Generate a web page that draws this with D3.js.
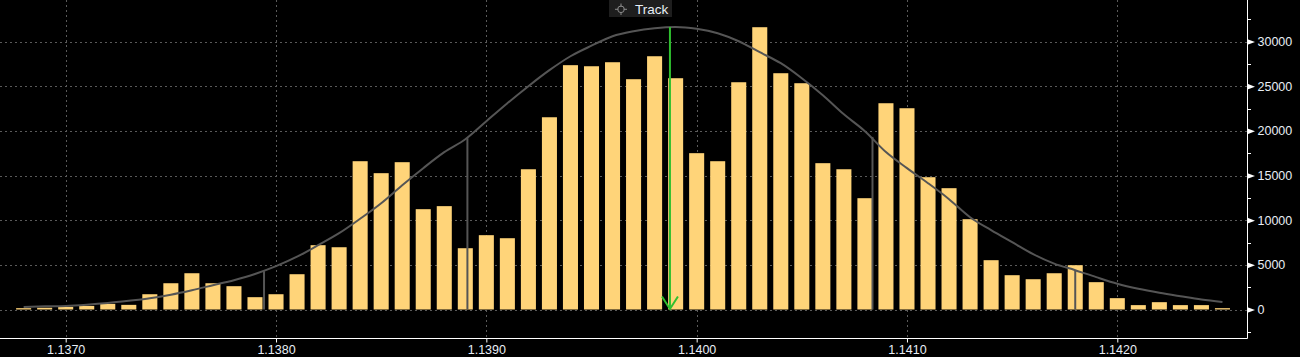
<!DOCTYPE html>
<html><head><meta charset="utf-8">
<script src="https://cdn.jsdelivr.net/npm/d3@7"></script>
<style>
html,body{margin:0;padding:0;background:#000;}
svg{display:block;}
</style></head>
<body>
<svg id="chart" width="1300" height="357"></svg>
<script>
const prices = [1.1368,1.1369,1.1370,1.1371,1.1372,1.1373,1.1374,1.1375,1.1376,1.1377,1.1378,1.1379,1.1380,1.1381,1.1382,
1.1383,1.1384,1.1385,1.1386,1.1387,1.1388,1.1389,1.1390,1.1391,1.1392,1.1393,1.1394,1.1395,1.1396,1.1397,
1.1398,1.1399,1.1400,1.1401,1.1402,1.1403,1.1404,1.1405,1.1406,1.1407,1.1408,1.1409,1.1410,1.1411,1.1412,
1.1413,1.1414,1.1415,1.1416,1.1417,1.1418,1.1419,1.1420,1.1421,1.1422,1.1423,1.1424,1.1425];
const volumes = [150,200,300,400,630,520,1710,2940,4060,2940,2610,1380,1710,3950,7200,
6970,16600,15260,16490,11230,11570,6860,8320,7980,15700,21520,27350,27230,27680,25780,
28350,25890,17500,16600,25440,31600,26450,25330,16380,15700,12460,23090,22530,14810,13580,
10110,5520,3840,3390,4060,4960,3060,1270,490,820,490,490,150];
const curveValues = [290,350,400,540,730,980,1260,1660,2160,2720,3280,3970,4850,5910,7200,
8540,10160,11900,13910,15820,17610,19060,21080,23090,25000,26790,28350,29530,30590,31150,
31490,31630,31430,30930,30030,28800,27570,25890,23990,21850,19960,17620,15820,14140,12350,
10330,8880,7530,6190,5130,4400,3620,2890,2330,1880,1490,1120,850];
const markerPrices = [1.137943,1.138910,1.140836,1.141800];
const markerHeights = [4290,19180,19320,4400];
const trackPrice = 1.139873;
const trackHeight = 31630;
const xTicks = [1.1370,1.1380,1.1390,1.1400,1.1410,1.1420];
const yTicks = [0,5000,10000,15000,20000,25000,30000];
const yMinorTicks = [-2500,2500,7500,12500,17500,22500,27500,32500];

const svg = d3.select("#chart");
const axisX = 1247.5, axisY = 338.5;
const x = d3.scaleLinear().domain([1.1370,1.1420]).range([65.7,1117.3]);
const y = d3.scaleLinear().domain([0,30000]).range([309.5,41.5]);

const gridColor = "#5a5a5a";
svg.append("g").selectAll("line").data(yTicks).join("line")
  .attr("x1",0).attr("x2",axisX).attr("y1",d=>Math.round(y(d))+0.5).attr("y2",d=>Math.round(y(d))+0.5)
  .attr("stroke",gridColor).attr("stroke-width",1).attr("stroke-dasharray","2,3");
svg.append("g").selectAll("line").data(xTicks).join("line")
  .attr("y1",0).attr("y2",axisY).attr("x1",d=>Math.round(x(d))+0.5).attr("x2",d=>Math.round(x(d))+0.5)
  .attr("stroke",gridColor).attr("stroke-width",1).attr("stroke-dasharray","2,3");

const step = x(1.1371)-x(1.1370);
const bw = step*0.715;
svg.append("g").selectAll("rect").data(prices).join("rect")
  .attr("x",(d,i)=>x(d)-bw/2).attr("width",bw)
  .attr("y",(d,i)=>y(volumes[i])).attr("height",(d,i)=>y(0)-y(volumes[i]))
  .attr("fill","#ffd479");

svg.append("g").selectAll("line").data(markerPrices).join("line")
  .attr("x1",d=>x(d)).attr("x2",d=>x(d))
  .attr("y1",y(0)).attr("y2",(d,i)=>y(markerHeights[i]))
  .attr("stroke","#555").attr("stroke-width",2);

const line = d3.line().x((d,i)=>x(prices[i])).y(d=>y(d)).curve(d3.curveMonotoneX);
svg.append("path").datum(curveValues).attr("d",line)
  .attr("fill","none").attr("stroke","#555").attr("stroke-width",2);

const tx = x(trackPrice);
svg.append("line").attr("x1",tx).attr("x2",tx).attr("y1",y(trackHeight)).attr("y2",y(0))
  .attr("stroke","#2fbf2f").attr("stroke-width",2);
svg.append("path").attr("d",`M${tx-8},${y(0)-13}L${tx},${y(0)-0.5}L${tx+8},${y(0)-13}`)
  .attr("fill","none").attr("stroke","#2fbf2f").attr("stroke-width",2);

svg.append("line").attr("x1",axisX).attr("x2",axisX).attr("y1",0).attr("y2",axisY)
  .attr("stroke","#fff").attr("stroke-width",1);
svg.append("g").selectAll("line").data(yMinorTicks).join("line")
  .attr("x1",axisX).attr("x2",axisX+3.5).attr("y1",d=>Math.round(y(d))+0.5).attr("y2",d=>Math.round(y(d))+0.5)
  .attr("stroke","#fff").attr("stroke-width",1);
const yAx = svg.append("g").attr("transform",`translate(${axisX},0)`)
  .call(d3.axisRight(y).tickValues(yTicks).tickSize(0).tickPadding(10).tickFormat(d3.format("d")));
yAx.select(".domain").remove();
yAx.selectAll("text").attr("fill","#e8eef5").style("font-family","'Liberation Sans',Arial,sans-serif").style("font-size","12.5px");
yAx.selectAll(".tick").append("path").attr("d","M0,-2.8L7.5,0L0,2.8Z").attr("fill","#fff");

svg.append("line").attr("x1",0).attr("x2",axisX).attr("y1",axisY).attr("y2",axisY)
  .attr("stroke","#fff").attr("stroke-width",1);
const xAx = svg.append("g").attr("transform",`translate(0,${axisY})`)
  .call(d3.axisBottom(x).tickValues(xTicks).tickSize(4).tickPadding(3).tickFormat(d3.format(".4f")));
xAx.select(".domain").remove();
xAx.selectAll(".tick line").attr("stroke","#fff");
xAx.selectAll("text").attr("fill","#e8eef5").style("font-family","'Liberation Sans',Arial,sans-serif").style("font-size","12.5px");

const tg = svg.append("g");
tg.append("rect").attr("x",609).attr("y",0).attr("width",63).attr("height",17).attr("fill","#1e1e1e");
tg.append("circle").attr("cx",621).attr("cy",9.3).attr("r",3.3).attr("fill","none").attr("stroke","#8a8a8a").attr("stroke-width",1);
tg.append("path").attr("d","M621,3.5V7M621,12V15M615,9.3H618.5M623.5,9.3H627").attr("stroke","#8a8a8a").attr("stroke-width",1);
tg.append("text").attr("x",635).attr("y",13.5).text("Track").attr("fill","#e8eef5")
  .style("font-family","'Liberation Sans',Arial,sans-serif").style("font-size","13.5px");
</script>
</body></html>
